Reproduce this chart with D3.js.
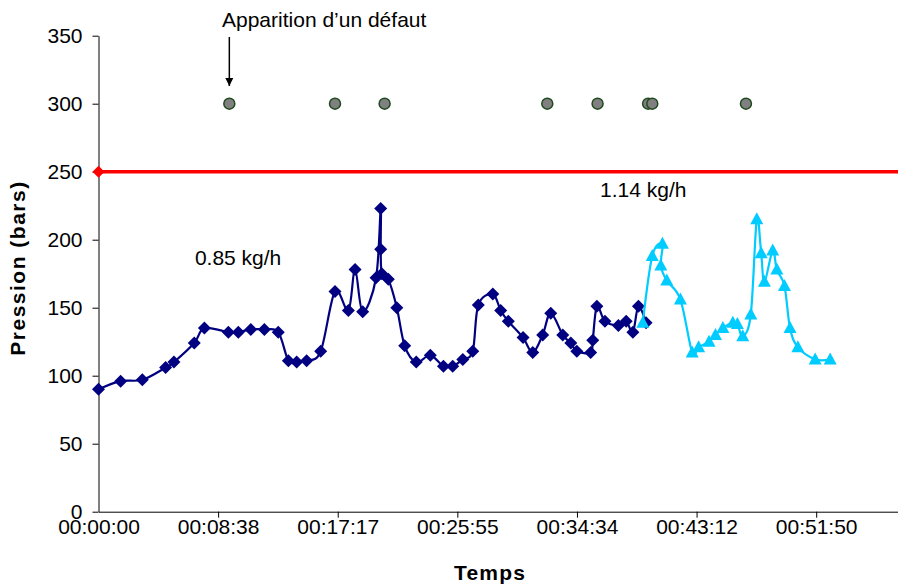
<!DOCTYPE html>
<html><head><meta charset="utf-8">
<script src="https://cdn.jsdelivr.net/npm/d3@7"></script>
<style>body{margin:0;background:#fff}svg{display:block;font-family:Arial,"Liberation Sans",sans-serif}</style>
</head><body><svg id="c" width="898" height="586"></svg>
<script>
// ---- data ----
const s1Time = [0,96,190,291,327,415,459,563,606,660,719,779,823,859,902,963,1025,1083,1112,1145,1203,1223,1223,1228,1256,1293,1327,1377,1438,1495,1535,1579,1622,1646,1709,1743,1776,1840,1882,1925,1960,2012,2047,2073,2133,2142,2160,2195,2253,2287,2316,2340,2373];
const s1Value = [90,96,97,106,110,124,135,132,132,134,134,132,111,110,111,118,162,148,178,147,172,223,193,175,171,150,122,110,115,107,107,112,118,152,160,148,140,128,117,130,146,130,124,118,117,126,151,140,137,140,132,151,139];
const s2Time = [2359,2400,2444,2437,2463,2522,2573,2601,2646,2674,2706,2749,2769,2792,2827,2853,2872,2886,2922,2940,2973,2997,3031,3106,3171];
const s2Value = [139,188,197,181,170,156,117,121,125,130,135,139,138,129,145,215,190,169,192,178,166,135,121,112,112];
const limitTime = [0,3700];
const limitValue = [250,250];
const defectTime = [567,1025,1240,1945,2163,2382,2400,2806];
const defectValue = [300,300,300,300,300,300,300,300];
const xTickValues = [0,518.4,1036.8,1555.2,2073.6,2592,3110.4];
const xTickLabels = ["00:00:00","00:08:38","00:17:17","00:25:55","00:34:34","00:43:12","00:51:50"];
const yTickValues = [0,50,100,150,200,250,300,350];
const annotations = [{text:"0.85 kg/h", t:605, v:187},{text:"1.14 kg/h", t:2361, v:237}];

// ---- chart ----
const svg = d3.select("#c");
const x = d3.scaleLinear().domain([0,3465]).range([98.5,898]);
const y = d3.scaleLinear().domain([0,350]).range([511.7,35.7]);
const FS = 21;

const xAxis = d3.axisBottom(x).tickValues(xTickValues).tickFormat((d,i)=>xTickLabels[i]).tickSize(6).tickSizeOuter(0);
const gx = svg.append("g").attr("transform",`translate(0,${y(0)})`).call(xAxis);
gx.select(".domain").attr("stroke","#000").attr("stroke-width",1);
gx.selectAll(".tick line").attr("stroke","#000");
gx.selectAll(".tick text").attr("font-size",FS).attr("fill","#000").attr("y",15).attr("dy","0.35em");
gx.selectAll(".tick").filter(d=>d===0).select("line").remove();

const yAxis = d3.axisLeft(y).tickValues(yTickValues).tickSize(6).tickPadding(10).tickSizeOuter(0);
const gy = svg.append("g").attr("transform",`translate(${x(0)},0)`).call(yAxis);
gy.select(".domain").attr("stroke","#000").attr("stroke-width",1);
gy.selectAll(".tick line").attr("stroke","#000");
gy.selectAll(".tick text").attr("font-size",FS).attr("fill","#000");

svg.append("text").attr("x",490).attr("y",580).attr("text-anchor","middle")
  .attr("font-size",FS).attr("font-weight","bold").attr("letter-spacing",1.2).text("Temps");
svg.append("text").attr("transform","translate(25,268) rotate(-90)").attr("text-anchor","middle")
  .attr("font-size",FS).attr("font-weight","bold").attr("letter-spacing",1.5).text("Pression (bars)");

const line = d3.line().x(d=>x(d[0])).y(d=>y(d[1])).curve(d3.curveCatmullRom.alpha(0));
const diamond = "M0,-6.5L6.5,0L0,6.5L-6.5,0Z";
const triangle = "M0,-7L6.5,5L-6.5,5Z";

// limit line
const lim = d3.zip(limitTime,limitValue);
svg.append("path").datum(lim).attr("d",d3.line().x(d=>x(d[0])).y(d=>y(d[1]))).attr("fill","none").attr("stroke","#FF0000").attr("stroke-width",3.5);
svg.selectAll(".lm").data(lim).join("path").attr("d","M0,-6L6,0L0,6L-6,0Z").attr("fill","#FF0000")
  .attr("transform",d=>`translate(${x(d[0])},${y(d[1])})`);

// series 1
const d1 = d3.zip(s1Time,s1Value);
svg.append("path").datum(d1).attr("d",line).attr("fill","none").attr("stroke","#000080").attr("stroke-width",2.2);
svg.selectAll(".m1").data(d1).join("path").attr("d",diamond).attr("fill","#000080")
  .attr("transform",d=>`translate(${x(d[0])},${y(d[1])})`);

// series 2
const d2 = d3.zip(s2Time,s2Value);
svg.append("path").datum(d2).attr("d",line).attr("fill","none").attr("stroke","#00CCFF").attr("stroke-width",2.2);
svg.selectAll(".m2").data(d2).join("path").attr("d",triangle).attr("fill","#00CCFF")
  .attr("transform",d=>`translate(${x(d[0])},${y(d[1])})`);

// defects
svg.selectAll(".df").data(d3.zip(defectTime,defectValue)).join("circle")
  .attr("cx",d=>x(d[0])).attr("cy",d=>y(d[1])).attr("r",5.5)
  .attr("fill","#808080").attr("stroke","#1F4A1F").attr("stroke-width",1.5);

// annotations
annotations.forEach(a=>{
  svg.append("text").attr("x",x(a.t)).attr("y",y(a.v)).attr("text-anchor","middle").attr("dy","0.35em")
    .attr("font-size",FS).attr("fill","#000").text(a.text);
});
svg.append("text").attr("x",222).attr("y",27).attr("font-size",FS).attr("fill","#000").text("Apparition d\u2019un défaut");
svg.append("defs").append("marker").attr("id","ah").attr("viewBox","0 0 10 10").attr("refX",10).attr("refY",5)
  .attr("markerWidth",8).attr("markerHeight",11).attr("markerUnits","userSpaceOnUse").attr("orient","auto")
  .append("path").attr("d","M0,0L10,5L0,10Z").attr("fill","#000");
svg.append("line").attr("x1",x(defectTime[0])).attr("x2",x(defectTime[0])).attr("y1",37).attr("y2",86)
  .attr("stroke","#000").attr("stroke-width",1.5).attr("marker-end","url(#ah)");
</script></body></html>
